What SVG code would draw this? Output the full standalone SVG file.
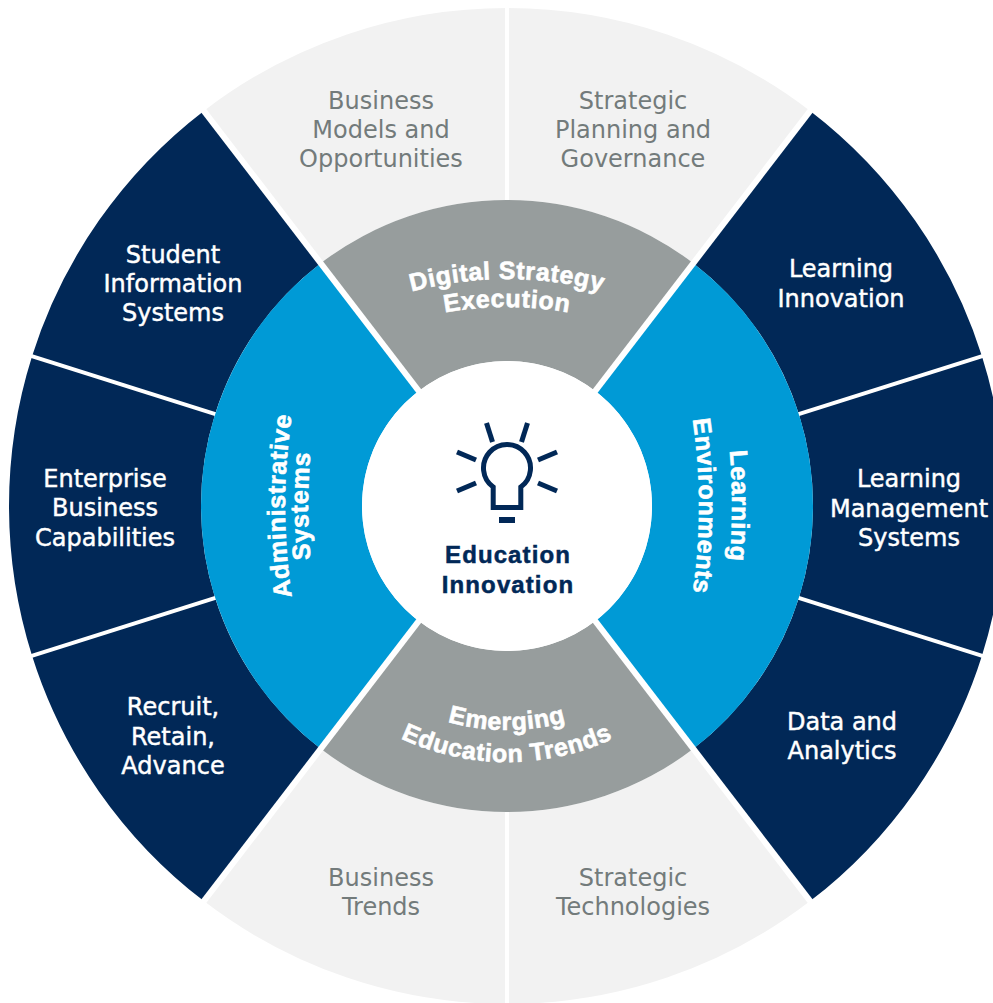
<svg xmlns="http://www.w3.org/2000/svg" width="993" height="1003" viewBox="0 0 993 1003">
<defs>
<style>
.lg{fill:#f2f2f2}
.nv{fill:#012857}
.gr{fill:#979d9d}
.bl{fill:#009ad6}
.lt{font-family:"DejaVu Sans","Liberation Sans",sans-serif;font-size:24px;fill:#737b7b;text-anchor:middle}
.nt{font-family:"DejaVu Sans","Liberation Sans",sans-serif;font-size:24px;fill:#ffffff;stroke:#ffffff;stroke-width:0.45;text-anchor:middle}
.ct{font-family:"Liberation Sans",Arial,sans-serif;font-size:24px;font-weight:bold;fill:#012857;stroke:#012857;stroke-width:0.5;text-anchor:middle;letter-spacing:1.1px}
.cv{font-family:"Liberation Sans",Arial,sans-serif;font-size:25px;font-weight:bold;fill:#ffffff;stroke:#ffffff;stroke-width:0.6;text-anchor:middle;letter-spacing:0.6px}
.sep{stroke:#ffffff;fill:none}
.ic{stroke:#012857;stroke-width:5;fill:none}
</style>
<path id="arcDS" d="M 294.8 345.9 A 370 370 0 0 1 719.2 345.9"/>
<path id="arcEx" d="M 309.7 369.2 A 344 344 0 0 1 704.3 369.2"/>
<path id="arcEm" d="M 325.96 635.8 A 221 221 0 0 0 688.04 635.8"/>
<path id="arcET" d="M 301.4 655 A 251 251 0 0 0 712.6 655"/>
<path id="arcAd" d="M 341.2 759.6 A 600 600 0 0 1 341.2 252.4"/>
<path id="arcSy" d="M 362.3 750.7 A 579 579 0 0 1 362.3 261.3"/>
<path id="arcLe" d="M 672.8 238.9 A 632 632 0 0 1 672.8 773.1"/>
<path id="arcEn" d="M 642.8 252.4 A 600 600 0 0 1 642.8 759.6"/>
</defs>

<g id="business-models">
<path class="lg" d="M 320.72 263.23 L 203.84 110.91 A 498 498 0 0 1 507 8 L 507 200 A 306 306 0 0 0 320.72 263.23 Z"/>
<text class="lt"><tspan x="381" y="109">Business</tspan><tspan x="381" y="138">Models and</tspan><tspan x="381" y="167">Opportunities</tspan></text>
</g>
<g id="strategic-planning">
<path class="lg" d="M 507 200 L 507 8 A 498 498 0 0 1 810.16 110.91 L 693.28 263.23 A 306 306 0 0 0 507 200 Z"/>
<text class="lt"><tspan x="633" y="109">Strategic</tspan><tspan x="633" y="138">Planning and</tspan><tspan x="633" y="167">Governance</tspan></text>
</g>
<g id="learning-innovation">
<path class="nv" d="M 693.28 263.23 L 810.16 110.91 A 498 498 0 0 1 981.95 356.25 L 798.84 413.98 A 306 306 0 0 0 693.28 263.23 Z"/>
<text class="nt"><tspan x="841" y="277">Learning</tspan><tspan x="841" y="307">Innovation</tspan></text>
</g>
<g id="learning-management">
<path class="nv" d="M 798.84 413.98 L 981.95 356.25 A 498 498 0 0 1 981.95 655.75 L 798.84 598.02 A 306 306 0 0 0 798.84 413.98 Z"/>
<text class="nt"><tspan x="909" y="487">Learning</tspan><tspan x="909" y="517">Management</tspan><tspan x="909" y="546">Systems</tspan></text>
</g>
<g id="data-analytics">
<path class="nv" d="M 798.84 598.02 L 981.95 655.75 A 498 498 0 0 1 810.16 901.09 L 693.28 748.77 A 306 306 0 0 0 798.84 598.02 Z"/>
<text class="nt"><tspan x="842" y="730">Data and</tspan><tspan x="842" y="759">Analytics</tspan></text>
</g>
<g id="strategic-technologies">
<path class="lg" d="M 693.28 748.77 L 810.16 901.09 A 498 498 0 0 1 507 1004 L 507 812 A 306 306 0 0 0 693.28 748.77 Z"/>
<text class="lt"><tspan x="633" y="886">Strategic</tspan><tspan x="633" y="915">Technologies</tspan></text>
</g>
<g id="business-trends">
<path class="lg" d="M 507 812 L 507 1004 A 498 498 0 0 1 203.84 901.09 L 320.72 748.77 A 306 306 0 0 0 507 812 Z"/>
<text class="lt"><tspan x="381" y="886">Business</tspan><tspan x="381" y="915">Trends</tspan></text>
</g>
<g id="recruit-retain-advance">
<path class="nv" d="M 320.72 748.77 L 203.84 901.09 A 498 498 0 0 1 32.05 655.75 L 215.16 598.02 A 306 306 0 0 0 320.72 748.77 Z"/>
<text class="nt"><tspan x="173" y="715">Recruit,</tspan><tspan x="173" y="745">Retain,</tspan><tspan x="173" y="774">Advance</tspan></text>
</g>
<g id="enterprise-business">
<path class="nv" d="M 215.16 598.02 L 32.05 655.75 A 498 498 0 0 1 32.05 356.25 L 215.16 413.98 A 306 306 0 0 0 215.16 598.02 Z"/>
<text class="nt"><tspan x="105" y="487">Enterprise</tspan><tspan x="105" y="516">Business</tspan><tspan x="105" y="546">Capabilities</tspan></text>
</g>
<g id="student-information">
<path class="nv" d="M 215.16 413.98 L 32.05 356.25 A 498 498 0 0 1 203.84 110.91 L 320.72 263.23 A 306 306 0 0 0 215.16 413.98 Z"/>
<text class="nt"><tspan x="173" y="263">Student</tspan><tspan x="173" y="292">Information</tspan><tspan x="173" y="321">Systems</tspan></text>
</g>

<g id="separators">
<line class="sep" stroke-width="4" x1="507" y1="0" x2="507" y2="210"/>
<line class="sep" stroke-width="4" x1="507" y1="802" x2="507" y2="1003"/>
<line class="sep" stroke-width="4" x1="793.1" y1="415.8" x2="988.6" y2="354.1"/>
<line class="sep" stroke-width="4" x1="793.1" y1="596.2" x2="988.6" y2="657.9"/>
<line class="sep" stroke-width="4" x1="220.9" y1="415.8" x2="25.4" y2="354.1"/>
<line class="sep" stroke-width="4" x1="220.9" y1="596.2" x2="25.4" y2="657.9"/>
</g>

<g id="digital-strategy">
<path class="gr" d="M 418.73 390.96 L 320.72 263.23 A 306 306 0 0 1 693.28 263.23 L 595.27 390.96 A 145 145 0 0 0 418.73 390.96 Z"/>
<text class="cv"><textPath href="#arcDS" startOffset="50%">Digital Strategy</textPath></text>
<text class="cv"><textPath href="#arcEx" startOffset="50%">Execution</textPath></text>
</g>
<g id="learning-environments">
<path class="bl" d="M 595.27 390.96 L 693.28 263.23 A 306 306 0 0 1 693.28 748.77 L 595.27 621.04 A 145 145 0 0 0 595.27 390.96 Z"/>
<text class="cv"><textPath href="#arcLe" startOffset="50%">Learning</textPath></text>
<text class="cv"><textPath href="#arcEn" startOffset="50%">Environments</textPath></text>
</g>
<g id="emerging-trends">
<path class="gr" d="M 595.27 621.04 L 693.28 748.77 A 306 306 0 0 1 320.72 748.77 L 418.73 621.04 A 145 145 0 0 0 595.27 621.04 Z"/>
<text class="cv"><textPath href="#arcEm" startOffset="50%">Emerging</textPath></text>
<text class="cv"><textPath href="#arcET" startOffset="50%">Education Trends</textPath></text>
</g>
<g id="administrative-systems">
<path class="bl" d="M 418.73 621.04 L 320.72 748.77 A 306 306 0 0 1 320.72 263.23 L 418.73 390.96 A 145 145 0 0 0 418.73 621.04 Z"/>
<text class="cv"><textPath href="#arcAd" startOffset="50%">Administrative</textPath></text>
<text class="cv"><textPath href="#arcSy" startOffset="50%">Systems</textPath></text>
</g>

<g id="gaps">
<line class="sep" stroke-width="6" x1="199.6" y1="105.4" x2="814.4" y2="906.6"/>
<line class="sep" stroke-width="6" x1="814.4" y1="105.4" x2="199.6" y2="906.6"/>
</g>

<g id="education-innovation">
<circle cx="507" cy="506" r="145" fill="#ffffff"/>
<path class="ic" d="M 493.2 507.5 L 493.2 487 A 23.5 23.5 0 1 1 520.8 487 L 520.8 507.5 Z"/>
<rect x="499" y="517" width="16" height="6" fill="#012857"/>
<line class="ic" x1="486.5" y1="423" x2="492.5" y2="442"/>
<line class="ic" x1="527.5" y1="423" x2="521.5" y2="442"/>
<line class="ic" x1="457" y1="452" x2="476" y2="460"/>
<line class="ic" x1="557" y1="452" x2="538" y2="460"/>
<line class="ic" x1="457" y1="491" x2="476" y2="483"/>
<line class="ic" x1="557" y1="491" x2="538" y2="483"/>
<text class="ct"><tspan x="508" y="563">Education</tspan><tspan x="508" y="593">Innovation</tspan></text>
</g>
</svg>
